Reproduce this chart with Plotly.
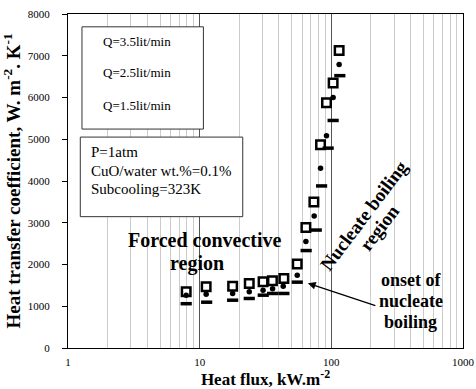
import plotly.graph_objects as go

# ---- data ----
q35_flux = [7.9, 11.2, 17.8, 23.8, 30.3, 35.7, 43.6, 55.1, 64.1, 73.7, 82.8, 91.9, 103.2, 114.6]
q35_htc  = [1349, 1469, 1481, 1546, 1585, 1613, 1666, 2010, 2886, 3498, 4867, 5875, 6348, 7124]

q25_flux = [7.9, 11.2, 17.8, 23.8, 30.3, 35.8, 43.1, 55.1, 64.1, 74.1, 82.8, 91.9, 103.2, 114.6]
q25_htc  = [1265, 1289, 1306, 1345, 1385, 1421, 1481, 1745, 2550, 3162, 4307, 5083, 6002, 6788]

q15_flux = [7.9, 11.3, 17.8, 23.8, 30.4, 35.8, 43.6, 55.1, 64.4, 76.8, 84.3, 94.6, 103.2, 116.0]
q15_htc  = [1061, 1097, 1145, 1186, 1265, 1306, 1306, 1577, 2334, 2825, 3882, 4787, 5450, 6523]

x_tickvals = [1, 10, 100, 1000]
x_ticktext = ["1", "10", "100", "1000"]
y_tickvals = [0, 1000, 2000, 3000, 4000, 5000, 6000, 7000, 8000]
y_ticktext = ["0", "1000", "2000", "3000", "4000", "5000", "6000", "7000", "8000"]

legend_labels = ["Q=3.5lit/min", "Q=2.5lit/min", "Q=1.5lit/min"]
cond_lines = ["P=1atm", "CuO/water wt.%=0.1%", "Subcooling=323K"]

FONT = "Liberation Serif"

fig = go.Figure()
fig.add_trace(go.Scatter(x=q35_flux, y=q35_htc, mode="markers", name=legend_labels[0],
                         marker=dict(symbol="square", size=8.5, color="white",
                                     line=dict(color="black", width=2.5))))
fig.add_trace(go.Scatter(x=q25_flux, y=q25_htc, mode="markers", name=legend_labels[1],
                         marker=dict(symbol="circle", size=5.5, color="black",
                                     line=dict(width=0))))
fig.add_trace(go.Scatter(x=q15_flux, y=q15_htc, mode="markers", name=legend_labels[2],
                         marker=dict(symbol="line-ew", size=8, color="black",
                                     line=dict(color="black", width=3.5))))

annotations = []
# legend box texts
for txt, yy in zip(legend_labels, [0.9184, 0.8253, 0.7263]):
    annotations.append(dict(xref="paper", yref="paper", x=0.0834, y=yy, text=txt,
                            showarrow=False, xanchor="left", yanchor="middle",
                            font=dict(family=FONT, size=13, color="black")))
# conditions box texts
for txt, yy in zip(cond_lines, [0.5864, 0.5312, 0.4754]):
    annotations.append(dict(xref="paper", yref="paper", x=0.0538, y=yy, text=txt,
                            showarrow=False, xanchor="left", yanchor="middle",
                            font=dict(family=FONT, size=15, color="black")))
# Forced convective region
annotations.append(dict(xref="paper", yref="paper", x=0.3463, y=0.3232,
                        text="<b>Forced convective</b>", showarrow=False,
                        xanchor="center", yanchor="middle",
                        font=dict(family=FONT, size=20, color="black")))
annotations.append(dict(xref="paper", yref="paper", x=0.3261, y=0.2533,
                        text="<b>region</b>", showarrow=False,
                        xanchor="center", yanchor="middle",
                        font=dict(family=FONT, size=20, color="black")))
# Nucleate boiling region (rotated)
annotations.append(dict(xref="paper", yref="paper", x=0.749, y=0.3968,
                        text="<b>Nucleate boiling</b>", showarrow=False, textangle=-53,
                        xanchor="center", yanchor="middle",
                        font=dict(family=FONT, size=19, color="black")))
annotations.append(dict(xref="paper", yref="paper", x=0.7897, y=0.3593,
                        text="<b>region</b>", showarrow=False, textangle=-53,
                        xanchor="center", yanchor="middle",
                        font=dict(family=FONT, size=19, color="black")))
# onset of nucleate boiling
for txt, yy in zip(["onset of", "nucleate", "boiling"], [0.2032, 0.1411, 0.0780]):
    annotations.append(dict(xref="paper", yref="paper", x=0.8676, y=yy,
                            text="<b>" + txt + "</b>", showarrow=False,
                            xanchor="center", yanchor="middle",
                            font=dict(family=FONT, size=18, color="black")))
# arrow pointing to onset
annotations.append(dict(xref="x", yref="y", x=1.8218, y=1553, text="", showarrow=True,
                        ax=69, ay=23, arrowhead=2, arrowsize=1.2, arrowwidth=1.3,
                        arrowcolor="black"))

shapes = [
    dict(type="rect", xref="paper", yref="paper", x0=0.0354, x1=0.3428, y0=0.6555, y1=0.9616,
         line=dict(color="#333333", width=1), fillcolor="white", layer="above"),
    dict(type="rect", xref="paper", yref="paper", x0=0.0311, x1=0.4424, y0=0.3932, y1=0.6315,
         line=dict(color="#333333", width=1), fillcolor="white", layer="above"),
]

fig.update_layout(
    width=476, height=389,
    margin=dict(l=68, r=13, t=14, b=41),
    paper_bgcolor="white", plot_bgcolor="white",
    showlegend=False,
    annotations=annotations,
    shapes=shapes,
    font=dict(family=FONT, color="black"),
    xaxis=dict(
        type="log", range=[0, 3], automargin=False,
        tickvals=x_tickvals, ticktext=x_ticktext,
        showgrid=True, gridcolor="#555555", gridwidth=1,
        minor=dict(dtick="D1", showgrid=True, gridcolor="#cccccc", gridwidth=1, ticks=""),
        ticks="", showline=True, linecolor="black", linewidth=1, mirror=True,
        tickfont=dict(family=FONT, size=11, color="black"),
        ticklabelstandoff=4,
        title=dict(text="<b>Heat flux, kW.m<sup>-2</sup></b>", standoff=6,
                   font=dict(family=FONT, size=17, color="black")),
        zeroline=False,
    ),
    yaxis=dict(
        range=[0, 8000], automargin=False,
        tickvals=y_tickvals, ticktext=y_ticktext,
        showgrid=False, zeroline=False,
        ticks="outside", ticklen=5, tickcolor="black",
        showline=True, linecolor="black", linewidth=1, mirror=True,
        tickfont=dict(family=FONT, size=11, color="black"),
        ticklabelstandoff=10,
        title=dict(text="<b>Heat transfer coefficient, W. m<sup>-2</sup>. K<sup>-1</sup></b>",
                   standoff=2, font=dict(family=FONT, size=19, color="black")),
    ),
)

fig.write_html("out.html")
